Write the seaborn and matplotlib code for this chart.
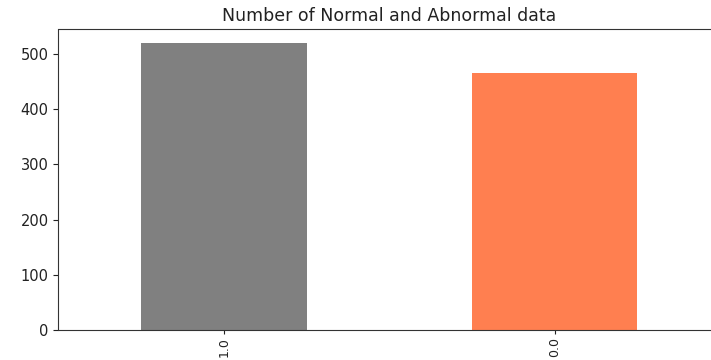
import matplotlib
matplotlib.use("Agg")
import matplotlib.pyplot as plt
import seaborn as sns
import pandas as pd

# class counts
labels = ["1.0", "0.0"]
counts = [520, 466]
colors = ["gray", "coral"]

df = pd.DataFrame({"label": labels, "count": counts})

fig = plt.figure(figsize=(7.11, 3.6), dpi=100)
ax = fig.add_axes([58.5 / 711, 30.3 / 360, 661.5 / 711, 300.7 / 360])

sns.barplot(data=df, x="label", y="count", hue="label", palette=colors,
            order=labels, width=0.5, saturation=1, legend=False, ax=ax)

ax.set_xlim(-0.5, 1.5)
ax.set_ylim(0, max(counts) * 1.05)
ax.set_yticks(range(0, 501, 100))
ax.set_xlabel("")
ax.set_ylabel("")
ax.tick_params(labelsize=10.5, colors="#222222")
ax.tick_params(axis="x", labelrotation=90, labelsize=9, length=3, pad=2)
for s in ax.spines.values():
    s.set_color("#333333")
ax.set_title("Number of Normal and Abnormal data", fontsize=12.5, color="#222222")

fig.savefig("out.png", dpi=100)
